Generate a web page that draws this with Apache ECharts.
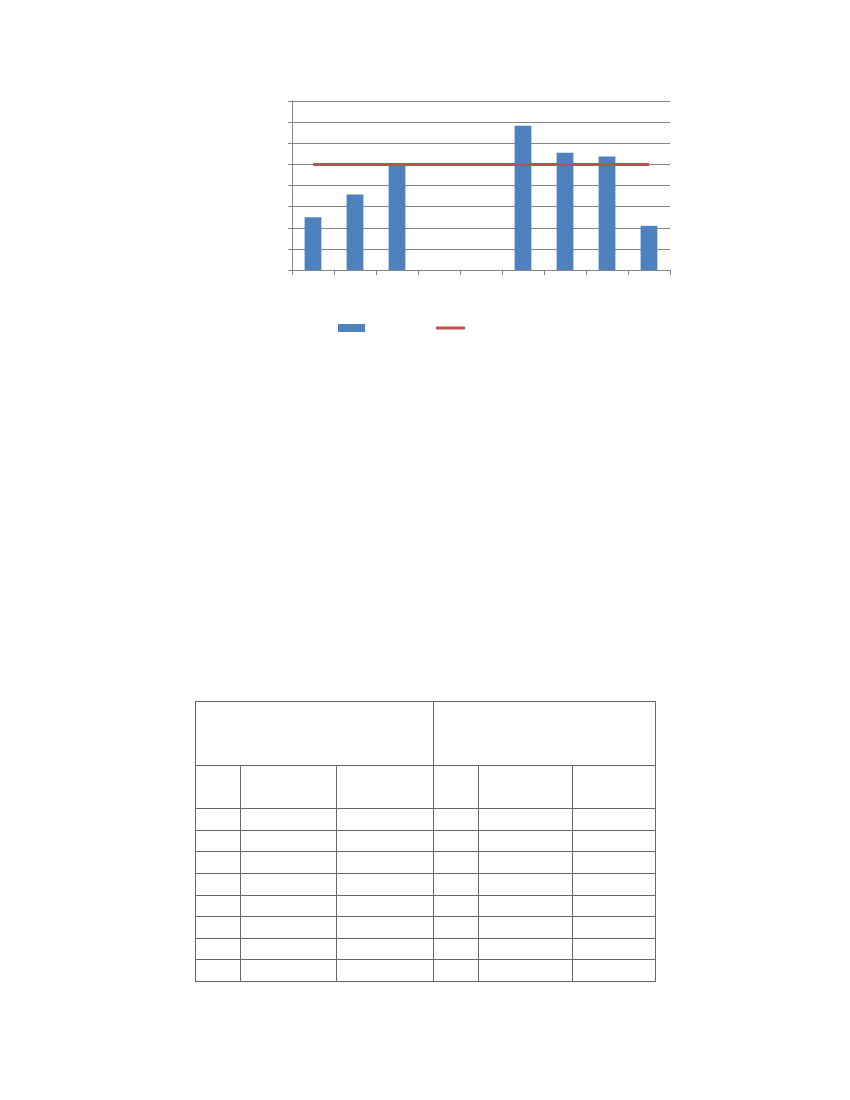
<!DOCTYPE html>
<html>
<head>
<meta charset="utf-8">
<script src="https://cdn.jsdelivr.net/npm/echarts@6/dist/echarts.min.js"></script>
<style>
  html, body { margin: 0; padding: 0; background: #fff; }
  #chart { position: absolute; left: 0; top: 0; width: 850px; height: 400px; }
  #tbl { position: absolute; left: 195px; top: 701px; border-collapse: collapse; table-layout: fixed; }
  #tbl td { border: 1px solid #666; padding: 0; }
</style>
</head>
<body>
<div id="chart"></div>
<table id="tbl">
  <colgroup>
    <col style="width:45px"><col style="width:96px"><col style="width:97px">
    <col style="width:45px"><col style="width:94px"><col style="width:83px">
  </colgroup>
  <tr style="height:64px"><td colspan="3"></td><td colspan="3"></td></tr>
  <tr style="height:43px"><td></td><td></td><td></td><td></td><td></td><td></td></tr>
  <tr style="height:22px"><td></td><td></td><td></td><td></td><td></td><td></td></tr>
  <tr style="height:21px"><td></td><td></td><td></td><td></td><td></td><td></td></tr>
  <tr style="height:22px"><td></td><td></td><td></td><td></td><td></td><td></td></tr>
  <tr style="height:22px"><td></td><td></td><td></td><td></td><td></td><td></td></tr>
  <tr style="height:21px"><td></td><td></td><td></td><td></td><td></td><td></td></tr>
  <tr style="height:22px"><td></td><td></td><td></td><td></td><td></td><td></td></tr>
  <tr style="height:21px"><td></td><td></td><td></td><td></td><td></td><td></td></tr>
  <tr style="height:22px"><td></td><td></td><td></td><td></td><td></td><td></td></tr>
</table>
<script>
// Data (no text labels are visible in the reference)
const categories = ['1', '2', '3', '4', '5', '6', '7', '8', '9'];
const barValues = [2.5, 3.57, 5.0, null, null, 6.83, 5.55, 5.37, 2.09];
const lineValues = [5, 5, 5, 5, 5, 5, 5, 5, 5];
const yTicks = { min: 0, max: 8, interval: 1 };

const chart = echarts.init(document.getElementById('chart'), null, { renderer: 'canvas' });
const axisGray = '#868686';
chart.setOption({
  animation: false,
  grid: { left: 292, top: 101, width: 378, height: 169, containLabel: false },
  legend: [
    {
      left: 338, top: 324, padding: 0, itemWidth: 27, itemHeight: 8, itemGap: 0,
      data: [{ name: 'bars', icon: 'rect' }],
      formatter: () => '', selectedMode: false
    },
    {
      left: 436, top: 326.5, padding: 0, itemWidth: 29, itemHeight: 3, itemGap: 0,
      data: [{ name: 'target', icon: 'rect', itemStyle: { color: '#C0504D' } }],
      formatter: () => '', selectedMode: false
    }
  ],
  xAxis: {
    type: 'category',
    data: categories,
    boundaryGap: true,
    axisLine: { show: true, lineStyle: { color: axisGray, width: 1 } },
    axisTick: { show: true, length: 5, alignWithLabel: false, lineStyle: { color: axisGray } },
    axisLabel: { show: false },
    splitLine: { show: false }
  },
  yAxis: {
    type: 'value',
    min: yTicks.min, max: yTicks.max, interval: yTicks.interval,
    axisLine: { show: true, lineStyle: { color: axisGray, width: 1 } },
    axisTick: { show: true, length: 4, lineStyle: { color: axisGray } },
    axisLabel: { show: false },
    splitLine: { show: true, lineStyle: { color: axisGray, width: 1 } }
  },
  series: [
    {
      name: 'bars', type: 'bar', data: barValues, barWidth: '40%',
      itemStyle: { color: '#4F81BD' }
    },
    {
      name: 'target', type: 'line', data: lineValues, symbol: 'none',
      lineStyle: { color: '#C0504D', width: 3 }, itemStyle: { color: '#C0504D' }
    }
  ]
});
</script>
</body>
</html>
